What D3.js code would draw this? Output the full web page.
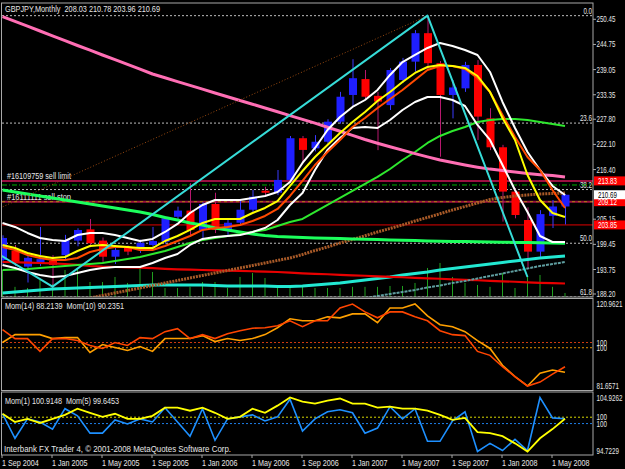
<!DOCTYPE html>
<html>
<head>
<meta charset="utf-8">
<script src="https://cdn.jsdelivr.net/npm/d3@7"></script>
<style>
  html, body { margin: 0; padding: 0; background: #000; }
  svg { display: block; }
  text { font-family: "Liberation Sans", Arial, sans-serif; font-size: 9px; fill: #e6e6e6; }
  text.num { font-family: "Liberation Sans Narrow", "Liberation Sans", Arial, sans-serif; font-size: 8.5px; }
</style>
</head>
<body>
<div id="chart"></div>
<script>
// ---- data (monthly bars, 1 Sep 2004 .. Jun 2008) ----
const symbol = "GBPJPY,Monthly";

const opens  = [195.9, 198.0, 194.4, 195.0, 195.75, 197.0, 200.3, 202.85, 200.3, 196.65, 198.7, 198.2, 199.3, 200.05, 205.7, 207.1, 202.7, 208.6, 202.7, 204.35, 207.3, 211.6, 211.15, 214.05, 223.5, 221.2, 222.7, 227.25, 233.3, 236.9, 233.1, 231.0, 236.7, 240.85, 247.3, 240.5, 233.3, 234.8, 240.1, 228.0, 221.45, 211.4, 204.97, 197.8, 205.9, 208.03];
const highs  = [201.5, 199.3, 196.8, 203.4, 197.0, 201.6, 203.1, 205.2, 201.0, 199.0, 199.2, 200.5, 203.4, 205.8, 208.0, 213.3, 209.0, 211.15, 205.0, 209.65, 211.8, 212.5, 216.3, 224.0, 224.0, 224.2, 227.8, 234.0, 241.4, 238.96, 234.0, 239.4, 241.7, 248.0, 251.27, 241.0, 236.7, 240.8, 241.2, 230.3, 222.0, 212.2, 207.85, 207.2, 209.5, 210.78];
const lows   = [195.0, 194.5, 190.8, 194.5, 189.0, 196.0, 199.0, 198.8, 195.5, 195.0, 197.0, 197.5, 198.5, 199.6, 205.0, 201.2, 200.4, 202.0, 201.5, 203.8, 206.8, 210.3, 210.6, 213.5, 217.8, 220.5, 222.0, 226.8, 230.7, 232.3, 220.8, 229.9, 236.0, 238.6, 239.0, 219.3, 228.0, 234.0, 223.1, 220.8, 204.6, 205.35, 194.2, 196.6, 203.15, 203.96];
const closes = [200.9, 195.2, 196.4, 196.1, 194.8, 200.4, 202.7, 199.7, 196.65, 198.2, 197.8, 199.8, 200.2, 205.35, 207.1, 202.7, 208.6, 202.7, 204.35, 207.3, 210.25, 211.15, 214.05, 223.5, 220.85, 222.7, 227.25, 232.9, 237.1, 232.9, 231.8, 238.95, 240.85, 247.3, 240.5, 233.3, 235.0, 240.1, 228.4, 221.45, 211.4, 206.1, 197.8, 206.3, 208.03, 210.69];

// indicator lines on the price chart
const pinkMA   = [251.06, 249.97, 248.89, 247.80, 246.71, 245.62, 244.51, 243.45, 242.36, 241.30, 240.21, 239.14, 238.05, 237.19, 236.33, 235.47, 234.61, 233.75, 232.91, 232.05, 231.21, 230.35, 229.49, 228.63, 227.77, 226.91, 225.98, 225.07, 224.14, 223.21, 222.37, 221.58, 220.79, 220.02, 219.27, 218.57, 217.98, 217.43, 216.94, 216.50, 216.17, 215.85, 215.51, 215.24, 215.03, 214.71];
const yellowMA = [199.31, 198.62, 197.49, 196.81, 196.36, 196.58, 197.94, 199.08, 199.31, 199.08, 198.85, 198.62, 198.62, 200.21, 201.34, 202.71, 204.29, 205.20, 205.20, 205.20, 206.56, 207.69, 209.27, 212.68, 216.07, 219.25, 221.97, 224.69, 227.18, 229.45, 231.93, 233.98, 236.25, 238.29, 239.64, 240.10, 239.87, 239.42, 237.60, 233.98, 228.09, 223.10, 215.17, 209.50, 206.56, 205.65];
const orangeMA = [198.85, 198.17, 197.04, 196.36, 195.91, 195.91, 196.36, 197.72, 198.40, 198.85, 198.85, 198.17, 198.17, 199.08, 200.21, 201.34, 202.71, 203.16, 203.39, 203.84, 204.75, 205.88, 207.47, 210.41, 213.81, 217.43, 220.38, 223.10, 226.04, 228.09, 230.35, 232.39, 234.43, 236.70, 238.96, 239.87, 239.87, 239.19, 237.15, 233.98, 228.77, 223.78, 219.25, 216.30, 211.77, 207.69];
const upperBand = [204.29, 203.39, 202.03, 200.89, 200.44, 200.21, 201.57, 202.03, 202.03, 201.57, 200.89, 200.21, 200.67, 202.25, 204.07, 206.56, 208.37, 209.50, 209.50, 209.50, 209.96, 210.41, 211.32, 213.58, 217.89, 221.29, 225.37, 228.31, 230.58, 232.16, 234.43, 237.83, 240.77, 242.36, 243.95, 245.08, 244.40, 243.49, 242.36, 238.51, 231.71, 225.82, 220.38, 216.30, 212.68, 210.64];
const lowerBand = [194.78, 194.10, 193.19, 192.51, 192.06, 192.28, 192.96, 193.64, 194.10, 194.32, 194.32, 194.32, 195.23, 196.36, 197.27, 199.31, 200.67, 201.12, 201.34, 201.57, 202.25, 203.16, 204.97, 208.37, 211.09, 216.30, 220.83, 223.55, 225.82, 226.04, 225.82, 227.63, 229.90, 231.71, 232.84, 232.84, 232.16, 230.80, 226.50, 223.10, 217.43, 211.77, 206.79, 201.34, 199.98, 199.98];
const greenMA  = [193.64, 193.75, 193.87, 194.10, 194.32, 194.55, 194.78, 195.00, 195.23, 195.68, 196.13, 196.59, 197.27, 197.94, 198.85, 199.76, 200.44, 200.89, 201.34, 201.80, 202.25, 202.71, 203.61, 204.52, 205.20, 206.79, 208.37, 209.96, 211.54, 213.13, 214.72, 216.53, 218.57, 220.38, 222.42, 224.01, 225.14, 226.04, 227.18, 227.63, 227.86, 227.86, 227.63, 227.18, 226.73, 226.27];
const springMA = [211.77, 211.32, 210.86, 210.41, 209.96, 209.50, 209.05, 208.60, 208.14, 207.69, 207.24, 206.78, 206.22, 205.54, 204.97, 204.29, 203.84, 203.16, 202.71, 202.25, 201.80, 201.46, 201.23, 201.12, 201.00, 200.89, 200.82, 200.75, 200.67, 200.60, 200.53, 200.44, 200.37, 200.30, 200.21, 200.17, 200.12, 200.08, 200.03, 199.98, 199.94, 199.89, 199.85, 199.80, 199.76, 199.71];
const redMA    = [195.45, 195.39, 195.32, 195.23, 195.16, 195.00, 194.78, 194.55, 194.39, 194.32, 194.25, 194.16, 194.05, 193.91, 193.80, 193.73, 193.64, 193.57, 193.48, 193.42, 193.35, 193.26, 193.19, 193.05, 192.89, 192.78, 192.67, 192.55, 192.44, 192.33, 192.21, 192.10, 191.99, 191.87, 191.76, 191.65, 191.53, 191.42, 191.31, 191.19, 191.08, 190.97, 190.85, 190.74, 190.65, 190.58];
const aquaMA   = [188.43, 188.66, 188.88, 189.11, 189.34, 189.45, 189.56, 189.68, 189.79, 189.90, 190.02, 190.13, 190.24, 190.24, 190.24, 190.24, 190.24, 190.13, 190.02, 190.02, 190.02, 190.02, 189.90, 189.90, 190.02, 190.24, 190.47, 190.70, 191.04, 191.38, 191.72, 192.06, 192.51, 192.85, 193.19, 193.64, 193.98, 194.32, 194.66, 195.00, 195.34, 195.68, 196.02, 196.36, 196.59, 196.81];
const brownStart = 7;
const brownMA  = [187.29, 187.86, 188.43, 188.99, 189.56, 190.13, 190.70, 191.26, 191.83, 192.40, 192.96, 193.53, 194.10, 194.66, 195.23, 195.80, 196.36, 197.15, 198.06, 198.85, 199.76, 200.55, 201.39, 202.25, 203.05, 203.84, 204.75, 205.54, 206.38, 207.24, 208.03, 208.82, 209.62, 210.07, 210.41, 210.64, 210.86, 210.98, 211.09];
const tealStart = 29;
const tealMA   = [187.29, 187.75, 188.20, 188.66, 189.11, 189.68, 190.13, 190.70, 191.15, 191.72, 192.28, 192.85, 193.41, 193.98, 194.55, 195.00, 195.45];
const histTops = [193.64, 189.82, 189.56, 191.38, 190.47, 193.64, 194.10, 190.92, 190.92, 192.06, 190.70, 194.10, 193.19, 189.56, 189.56, 189.82, 190.92, 190.92, 189.56, 192.06, 192.96, 191.83, 190.24, 189.56, 189.82, 189.56, 189.56, 189.56, 189.82, 189.82, 189.82, 190.02, 190.02, 190.70, 194.10, 195.23, 192.06, 190.70, 190.24, 189.82, 192.96, 189.56, 192.06, 192.51, 189.82, 188.43];

// objects: trendlines [bar index, price], fibonacci, orders
const cyanTrend   = [[-0.2, 197.04], [4, 189.86], [34, 251.27], [42, 192.05]];
const fibDiagonal = [[-0.2, 207.69], [34, 251.27]];
const fibLabels   = ["0.0", "23.6", "38.2", "50.0", "61.8"];
const fibPrices   = [251.27, 226.93, 211.87, 199.70, 187.52];
const orderLabels = ["#16109759 sell limit", "#16111111 sell stop"];
const orderPrices = [213.83, 209.12];
const tpPrice = 212.90;
const stopPrice = 203.85;

// momentum sub-windows
const mom14 = [102.49, 106.28, 106.28, 106.28, 104.39, 104.86, 104.86, 97.76, 101.55, 100.13, 98.71, 100.60, 98.23, 104.39, 104.39, 104.39, 105.81, 102.97, 104.39, 103.44, 104.39, 106.28, 109.60, 113.86, 112.91, 112.91, 114.81, 114.33, 116.23, 116.23, 111.97, 119.07, 119.07, 120.96, 115.28, 111.02, 110.07, 107.70, 103.44, 99.65, 91.60, 86.16, 81.66, 87.80, 89.30, 88.2139];
const mom10 = [105.18, 101.59, 101.59, 96.41, 101.59, 101.59, 100.79, 98.80, 97.61, 100.00, 98.80, 101.99, 101.59, 104.38, 105.58, 101.59, 103.18, 101.59, 103.58, 104.78, 105.78, 105.97, 106.77, 108.76, 106.37, 108.76, 108.76, 113.95, 115.54, 112.35, 109.96, 112.35, 112.35, 110.36, 108.76, 104.78, 103.18, 102.79, 96.41, 94.82, 90.23, 86.25, 82.46, 84.05, 87.24, 90.2351];
const mom1  = [101.85, 97.22, 100.88, 100.31, 98.96, 102.81, 101.46, 98.19, 98.19, 100.69, 99.92, 100.88, 100.31, 103.00, 100.31, 97.61, 102.81, 96.84, 100.88, 101.27, 101.65, 100.50, 101.27, 104.60, 98.57, 100.88, 102.23, 102.62, 102.04, 98.19, 99.15, 103.19, 100.88, 102.81, 96.65, 96.65, 100.50, 102.23, 94.72, 96.26, 94.91, 97.03, 94.91, 104.93, 101.08, 100.9148];
const mom5  = [100.76, 98.95, 99.63, 98.72, 99.63, 100.53, 101.89, 100.98, 100.08, 100.76, 99.63, 99.63, 100.30, 102.12, 102.12, 101.44, 102.12, 100.98, 99.63, 100.08, 101.89, 100.98, 102.57, 104.38, 103.47, 103.02, 103.70, 104.15, 103.02, 103.02, 102.12, 102.34, 101.89, 101.89, 101.44, 100.53, 99.40, 99.85, 96.68, 96.46, 95.78, 94.19, 92.38, 95.32, 97.36, 99.6453];

// axis labels
const priceTicks = [250.45, 244.75, 239.05, 233.35, 227.80, 222.10, 216.40, 205.15, 199.45, 193.75, 188.20];
const dateLabels = ["1 Sep 2004", "1 Jan 2005", "1 May 2005", "1 Sep 2005", "1 Jan 2006", "1 May 2006", "1 Sep 2006", "1 Jan 2007", "1 May 2007", "1 Sep 2007", "1 Jan 2008", "1 May 2008"];
const dateBars   = [0, 4, 8, 12, 16, 20, 24, 28, 32, 36, 40, 44];

// ---- layout ----
const width = 625, height = 469;
const left = 2, right = 593;
const mainTop = 3, mainBottom = 297;
const p1Top = 298.5, p1Bottom = 390.5;
const p2Top = 392, p2Bottom = 455;
const frameColor = "#a8a8a8";

const x = d3.scaleLinear().domain([0, 45]).range([2.5, 565]);
const y = d3.scaleLinear().domain([187.52, 254.14]).range([mainBottom, mainTop]);
const yM14 = d3.scaleLinear().domain([81.6571, 120.9621]).range([386, 304]);
const yM10 = d3.scaleLinear().domain([82.46, 115.54]).range([386, 304]);
const yM1 = d3.scaleLinear().domain([94.7229, 104.9262]).range([451.5, 397.5]);
const yM5 = d3.scaleLinear().domain([92.38, 104.38]).range([451.5, 397.5]);

const svg = d3.select("#chart").append("svg")
    .attr("width", width)
    .attr("height", height)
    .attr("viewBox", [0, 0, width, height])
    .style("background", "#000");

const defs = svg.append("defs");
[["clipMain", mainTop, mainBottom], ["clipP1", p1Top, p1Bottom], ["clipP2", p2Top, p2Bottom]].forEach(([id, t, b]) => {
    defs.append("clipPath").attr("id", id)
        .append("rect").attr("x", left).attr("y", t).attr("width", right - left).attr("height", b - t);
});

// squeeze text to the narrow terminal font
function fit(sel, w) {
    sel.attr("textLength", w).attr("lengthAdjust", "spacingAndGlyphs");
}
function squeeze(sel, k) {
    sel.each(function () {
        const w = this.getComputedTextLength();
        this.setAttribute("textLength", (w * k).toFixed(1));
        this.setAttribute("lengthAdjust", "spacingAndGlyphs");
    });
}
// numeric labels: narrow digits like the terminal font
function numFit(sel) {
    sel.classed("num", true).each(function () {
        const s = this.textContent;
        const dots = (s.match(/\./g) || []).length;
        const w = (s.length - dots) * 3.45 + dots * 1.7;
        this.setAttribute("textLength", w.toFixed(1));
        this.setAttribute("lengthAdjust", "spacingAndGlyphs");
    });
}

const main = svg.append("g").attr("clip-path", "url(#clipMain)");

// fibonacci levels
main.append("g")
    .selectAll("line")
    .data(fibPrices)
    .join("line")
    .attr("x1", left).attr("x2", right)
    .attr("y1", d => y(d)).attr("y2", d => y(d))
    .attr("stroke", "#bdbdbd")
    .attr("stroke-dasharray", "2,2");

main.append("g")
    .selectAll("text")
    .data(fibPrices)
    .join("text")
    .attr("x", right - 1)
    .attr("y", d => y(d) - 2)
    .attr("text-anchor", "end")
    .text((d, i) => fibLabels[i])
    .call(numFit);

// pending orders and stop line
main.append("line")
    .attr("x1", left).attr("x2", right)
    .attr("y1", y(stopPrice)).attr("y2", y(stopPrice))
    .attr("stroke", "#e00000").attr("stroke-width", 1);

main.append("line")
    .attr("x1", left).attr("x2", right)
    .attr("y1", y(tpPrice)).attr("y2", y(tpPrice))
    .attr("stroke", "#00b000").attr("stroke-dasharray", "5,2,1,2");

main.append("g")
    .selectAll("line")
    .data(orderPrices)
    .join("line")
    .attr("x1", left).attr("x2", right)
    .attr("y1", d => y(d)).attr("y2", d => y(d))
    .attr("stroke", "#9c1040").attr("stroke-width", 2);

main.append("line")
    .attr("x1", left).attr("x2", right)
    .attr("y1", y(orderPrices[1])).attr("y2", y(orderPrices[1]))
    .attr("stroke", "#b0a000").attr("stroke-dasharray", "3,3").attr("stroke-width", 0.8);

main.append("g")
    .selectAll("text")
    .data(orderPrices)
    .join("text")
    .attr("x", 7)
    .attr("y", d => y(d) - 1.5)
    .style("font-size", "8.5px")
    .text((d, i) => orderLabels[i])
    .call(fit, 64);

// green histogram sticks
main.append("g")
    .attr("stroke", "#1fa01f")
    .selectAll("line")
    .data(histTops)
    .join("line")
    .attr("x1", (d, i) => x(i)).attr("x2", (d, i) => x(i))
    .attr("y1", d => y(d)).attr("y2", mainBottom);

// candles
const bars = d3.range(opens.length);
main.append("g")
    .selectAll("line")
    .data(bars)
    .join("line")
    .attr("x1", i => x(i) + 0.5).attr("x2", i => x(i) + 0.5)
    .attr("y1", i => y(highs[i])).attr("y2", i => y(lows[i]))
    .attr("stroke", i => closes[i] >= opens[i] ? "#3a3aff" : "#b8186e");

main.append("g")
    .selectAll("rect")
    .data(bars)
    .join("rect")
    .attr("x", i => x(i) - 3.5)
    .attr("width", 8)
    .attr("y", i => y(Math.max(opens[i], closes[i])))
    .attr("height", i => Math.max(1.5, Math.abs(y(opens[i]) - y(closes[i]))))
    .attr("fill", i => closes[i] >= opens[i] ? "#1f1fff" : "#ff0000");

// moving averages
function maLine(values, start, color, w, dash) {
    const line = d3.line()
        .x((d, i) => x(i + start))
        .y(d => y(d));
    main.append("path")
        .datum(values)
        .attr("fill", "none")
        .attr("stroke", color)
        .attr("stroke-width", w)
        .attr("stroke-linejoin", "round")
        .attr("stroke-dasharray", dash || null)
        .attr("d", line);
}

maLine(aquaMA, 0, "#22e8d2", 3);
maLine(redMA, 0, "#e80000", 2.2);
maLine(tealMA, tealStart, "#5f9ea0", 2, "3,1");
maLine(brownMA, brownStart, "#a85a28", 3, "2,1");
maLine(springMA, 0, "#1cff5c", 3);
maLine(greenMA, 0, "#2ee82e", 2);
maLine(pinkMA, 0, "#ff6eb4", 3);
maLine(lowerBand, 0, "#ffffff", 2);
maLine(upperBand, 0, "#ffffff", 2);
maLine(orangeMA, 0, "#ff4a00", 2);
maLine(yellowMA, 0, "#ffff00", 2);

// trendlines
const trend = d3.line().x(d => x(d[0])).y(d => y(d[1]));
main.append("path")
    .datum(fibDiagonal)
    .attr("fill", "none")
    .attr("stroke", "#9a4a10")
    .attr("stroke-dasharray", "1,2")
    .attr("d", trend);
main.append("path")
    .datum(cyanTrend)
    .attr("fill", "none")
    .attr("stroke", "#36dcd8")
    .attr("stroke-width", 2)
    .attr("stroke-linejoin", "round")
    .attr("d", trend);

// header
svg.append("text")
    .attr("x", 5).attr("y", 12)
    .style("white-space", "pre")
    .text(`${symbol}  ${opens[45].toFixed(2)} ${highs[45].toFixed(2)} ${lows[45].toFixed(2)} ${closes[45].toFixed(2)}`)
    .call(fit, 155);

// ---- momentum window 1 ----
const p1 = svg.append("g").attr("clip-path", "url(#clipP1)");
p1.append("line")
    .attr("x1", left).attr("x2", right)
    .attr("y1", yM10(100)).attr("y2", yM10(100))
    .attr("stroke", "#d03a10").attr("stroke-dasharray", "2,2");
p1.append("line")
    .attr("x1", left).attr("x2", right)
    .attr("y1", yM14(100)).attr("y2", yM14(100))
    .attr("stroke", "#e09000").attr("stroke-dasharray", "2,2");
p1.append("path")
    .datum(mom14)
    .attr("fill", "none").attr("stroke", "#ffa000").attr("stroke-width", 1.6)
    .attr("d", d3.line().x((d, i) => x(i)).y(d => yM14(d)));
p1.append("path")
    .datum(mom10)
    .attr("fill", "none").attr("stroke", "#ff4500").attr("stroke-width", 1.6)
    .attr("d", d3.line().x((d, i) => x(i)).y(d => yM10(d)));

svg.append("text")
    .attr("x", 5).attr("y", 309)
    .style("white-space", "pre")
    .text(`Mom(14) ${mom14[45].toFixed(4)}  Mom(10) ${mom10[45].toFixed(4)}`)
    .call(fit, 119);

// ---- momentum window 2 ----
const p2 = svg.append("g").attr("clip-path", "url(#clipP2)");
p2.append("line")
    .attr("x1", left).attr("x2", right)
    .attr("y1", yM5(100)).attr("y2", yM5(100))
    .attr("stroke", "#d8d800").attr("stroke-dasharray", "2,2");
p2.append("line")
    .attr("x1", left).attr("x2", right)
    .attr("y1", yM1(100)).attr("y2", yM1(100))
    .attr("stroke", "#1e7ee8").attr("stroke-dasharray", "2,2");
p2.append("path")
    .datum(mom1)
    .attr("fill", "none").attr("stroke", "#1e90ff").attr("stroke-width", 1.6)
    .attr("d", d3.line().x((d, i) => x(i)).y(d => yM1(d)));
p2.append("path")
    .datum(mom5)
    .attr("fill", "none").attr("stroke", "#ffff00").attr("stroke-width", 1.8)
    .attr("d", d3.line().x((d, i) => x(i)).y(d => yM5(d)));

svg.append("text")
    .attr("x", 5).attr("y", 404)
    .style("white-space", "pre")
    .text(`Mom(1) ${mom1[45].toFixed(4)}  Mom(5) ${mom5[45].toFixed(4)}`)
    .call(fit, 114);

svg.append("text")
    .attr("x", 4).attr("y", 452)
    .text("Interbank FX Trader 4, \u00a9 2001-2008 MetaQuotes Software Corp.")
    .call(fit, 227);

// ---- frames ----
[[mainTop, mainBottom], [p1Top, p1Bottom], [p2Top, p2Bottom]].forEach(([t, b]) => {
    svg.append("rect")
        .attr("x", left - 0.5).attr("y", t)
        .attr("width", right - left + 0.5).attr("height", b - t)
        .attr("fill", "none").attr("stroke", frameColor);
});

// ---- price axis ----
const axisX = right + 3.5;
svg.append("g")
    .selectAll("line")
    .data(priceTicks)
    .join("line")
    .attr("x1", right).attr("x2", right + 3)
    .attr("y1", d => y(d)).attr("y2", d => y(d))
    .attr("stroke", frameColor);
svg.append("g")
    .selectAll("text")
    .data(priceTicks)
    .join("text")
    .attr("x", axisX).attr("y", d => y(d) + 3)
    .text(d => d.toFixed(2))
    .call(numFit);

// price boxes
const boxes = [
    {price: orderPrices[0], fill: "#ff0000", color: "#ffffff"},
    {price: orderPrices[1], fill: "#ff0000", color: "#ffffff"},
    {price: stopPrice, fill: "#ff0000", color: "#ffffff"},
    {price: closes[45], fill: "#ffffff", color: "#000000"}
];
const boxG = svg.append("g")
    .selectAll("g")
    .data(boxes)
    .join("g")
    .attr("transform", d => `translate(${right + 1},${y(d.price)})`);
boxG.append("rect")
    .attr("x", 0).attr("y", -4.5).attr("width", 31).attr("height", 9)
    .attr("fill", d => d.fill);
boxG.append("text")
    .attr("x", 4).attr("y", 3.3)
    .style("fill", d => d.color)
    .text(d => d.price.toFixed(2))
    .call(numFit);

// momentum axes
const m1Labels = [
    {v: 120.9621, s: yM14}, {v: 100, s: yM10}, {v: 100, s: yM14}, {v: 81.6571, s: yM14}
];
const m2Labels = [
    {v: 104.9262, s: yM1}, {v: 100, s: yM5}, {v: 100, s: yM1}, {v: 94.7229, s: yM1}
];
svg.append("g")
    .selectAll("text")
    .data(m1Labels.concat(m2Labels))
    .join("text")
    .attr("x", axisX).attr("y", d => Math.min(d.s(d.v) + 3, 454))
    .text(d => d.v === 100 ? "100" : d.v.toFixed(4))
    .call(numFit);

// time axis
svg.append("g")
    .selectAll("line")
    .data(dateBars)
    .join("line")
    .attr("x1", d => x(d) - 0.5).attr("x2", d => x(d) - 0.5)
    .attr("y1", p2Bottom).attr("y2", p2Bottom + 3)
    .attr("stroke", frameColor);
svg.append("g")
    .selectAll("text")
    .data(dateBars)
    .join("text")
    .attr("x", d => x(d) - 0.5).attr("y", 466)
    .text((d, i) => dateLabels[i])
    .call(squeeze, 0.8);
</script>
</body>
</html>
